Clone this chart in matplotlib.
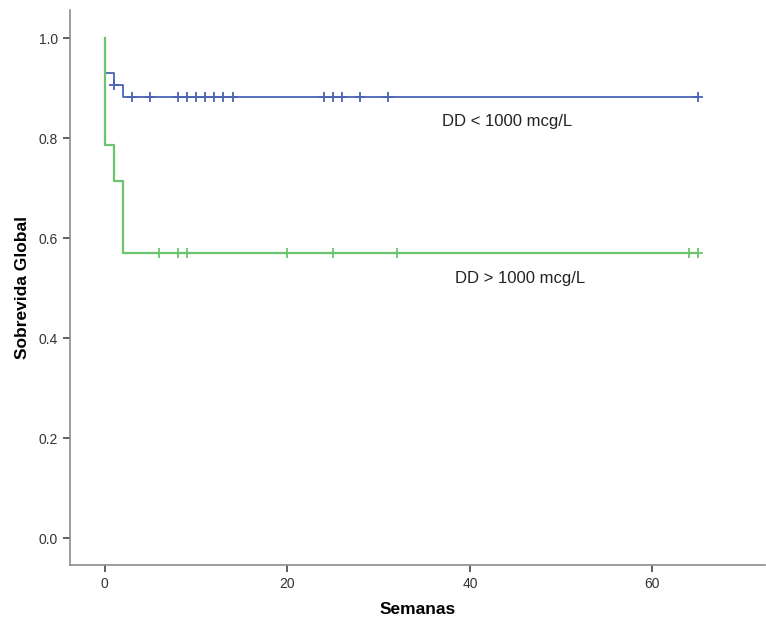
import numpy as np
import matplotlib.pyplot as plt

plt.rcParams['font.family'] = ['Liberation Sans', 'DejaVu Sans']

# curvas de Kaplan-Meier (semanas, sobrevida)
low_t = [0, 0, 1, 2, 65]
low_s = [1.0, 0.931, 0.907, 0.882, 0.882]
low_cens = [1, 3, 5, 8, 9, 10, 11, 12, 13, 14, 24, 25, 26, 28, 31, 65]
low_cens_s = [0.907] + [0.882] * 15

high_t = [0, 0, 1, 2, 65]
high_s = [1.0, 0.786, 0.714, 0.571, 0.571]
high_cens = [6, 8, 9, 20, 25, 32, 64, 65]
high_cens_s = [0.571] * 8

blue = '#4a63b5'
green = '#6ac46e'
grey = '#8c8c8c'

fig = plt.figure(figsize=(7.66, 6.24), dpi=100)
ax = fig.add_axes([0.0914, 0.0946, 0.907, 0.889])

ax.step(low_t, low_s, where='post', color=blue, lw=1.3)
ax.plot(low_cens, low_cens_s, '+', color=blue, ms=6.5, mew=1.3)
ax.step(high_t, high_s, where='post', color=green, lw=1.6)
ax.plot(high_cens, high_cens_s, '+', color=green, ms=6.5, mew=1.3)

ax.text(37.0, 0.834, 'DD < 1000 mcg/L', fontsize=12, color='#222222', va='center')
ax.text(38.4, 0.520, 'DD > 1000 mcg/L', fontsize=12, color='#222222', va='center')

ax.set_xlim(-3.8, 72.3)
ax.set_ylim(-0.053, 1.056)
ax.set_xticks([0, 20, 40, 60])
ax.set_yticks([0.0, 0.2, 0.4, 0.6, 0.8, 1.0])
ax.set_yticklabels(['0.0', '0.2', '0.4', '0.6', '0.8', '1.0'])

for s in ['top', 'right']:
    ax.spines[s].set_visible(False)
for s in ['left', 'bottom']:
    ax.spines[s].set_color(grey)
    ax.spines[s].set_linewidth(1.2)
ax.tick_params(colors='#333333', labelsize=10, length=5, width=1.2)
ax.tick_params(axis='both', color='#444444')

ax.set_xlabel('Semanas', fontsize=12.5, fontweight='bold', labelpad=8)
ax.set_ylabel('Sobrevida Global', fontsize=12.5, fontweight='bold', labelpad=6)

fig.savefig('out.png', dpi=100)
